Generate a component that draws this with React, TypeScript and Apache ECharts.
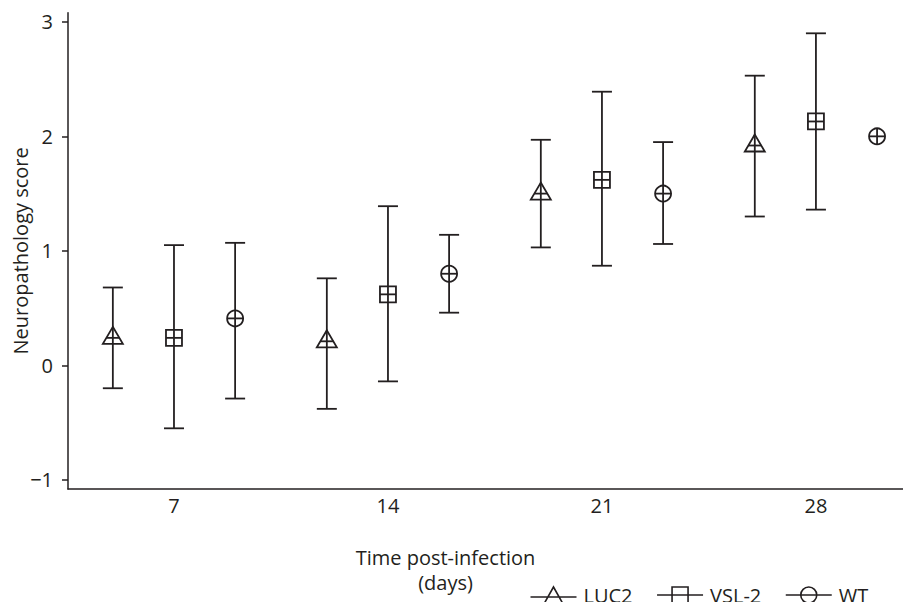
import React, { useEffect, useRef } from "react";
import * as echarts from "echarts";

// ---- data ----
const dayLabels = [7, 14, 21, 28];
const yTicks = [-1, 0, 1, 2, 3];

const luc2Mean = [0.24, 0.21, 1.5, 1.92];
const luc2Low = [-0.2, -0.38, 1.03, 1.3];
const luc2High = [0.68, 0.76, 1.97, 2.53];

const vslMean = [0.24, 0.62, 1.62, 2.13];
const vslLow = [-0.55, -0.14, 0.87, 1.36];
const vslHigh = [1.05, 1.39, 2.39, 2.9];

const wtMean = [0.41, 0.8, 1.5, 2.0];
const wtLow = [-0.29, 0.46, 1.06, 2.0];
const wtHigh = [1.07, 1.14, 1.95, 2.0];

const seriesNames = ["LUC2", "VSL-2", "WT"];
const dayOffsets = [-2, 0, 2];

const INK = "#231f20";
const FONT = "Open Sans";

type Shape = "triangle" | "square" | "circle";

function buildData(mean: number[], low: number[], high: number[], offset: number) {
  return dayLabels.map((d, i) => [d + offset, mean[i], low[i], high[i]]);
}

function makeRender(shape: Shape) {
  return (params: any, api: any) => {
    const x = api.value(0);
    const m = api.value(1);
    const lo = api.value(2);
    const hi = api.value(3);
    const c = api.coord([x, m]);
    const cx = c[0];
    const cy = c[1];
    const st = { stroke: INK, lineWidth: 1.8, fill: "none" };
    const children: any[] = [];
    if (hi !== lo) {
      const pl = api.coord([x, lo]);
      const ph = api.coord([x, hi]);
      const cap = 10;
      children.push({ type: "line", shape: { x1: cx, y1: pl[1], x2: cx, y2: ph[1] }, style: st });
      children.push({ type: "line", shape: { x1: cx - cap, y1: pl[1], x2: cx + cap, y2: pl[1] }, style: st });
      children.push({ type: "line", shape: { x1: cx - cap, y1: ph[1], x2: cx + cap, y2: ph[1] }, style: st });
    }
    const mst = { stroke: INK, lineWidth: 1.8, fill: "#fff" };
    if (shape === "triangle") {
      children.push({
        type: "polygon",
        shape: { points: [[cx, cy - 11], [cx - 10, cy + 6], [cx + 10, cy + 6]] },
        style: mst,
      });
      children.push({ type: "line", shape: { x1: cx - 6.5, y1: cy, x2: cx + 6.5, y2: cy }, style: st });
      children.push({ type: "line", shape: { x1: cx, y1: cy - 11, x2: cx, y2: cy + 6 }, style: st });
    } else if (shape === "square") {
      children.push({ type: "rect", shape: { x: cx - 8, y: cy - 8, width: 16, height: 16 }, style: mst });
      children.push({ type: "line", shape: { x1: cx - 8, y1: cy, x2: cx + 8, y2: cy }, style: st });
      children.push({ type: "line", shape: { x1: cx, y1: cy - 8, x2: cx, y2: cy + 8 }, style: st });
    } else {
      children.push({ type: "circle", shape: { cx, cy, r: 8 }, style: mst });
      children.push({ type: "line", shape: { x1: cx - 8, y1: cy, x2: cx + 8, y2: cy }, style: st });
      children.push({ type: "line", shape: { x1: cx, y1: cy - 8, x2: cx, y2: cy + 8 }, style: st });
    }
    return { type: "group", children };
  };
}

const legendIcons = [
  "path://M0 10 L46 10 M23 0 L32 16 L14 16 Z",
  "path://M0 8 L46 8 M15 0 L31 0 L31 16 L15 16 Z",
  "path://M0 8 L46 8 M31 8 A8 8 0 1 1 15 8 A8 8 0 1 1 31 8 Z",
];

export default function App() {
  const ref = useRef<HTMLDivElement>(null);
  useEffect(() => {
    if (!ref.current) return;
    const chart = echarts.init(ref.current, null, { renderer: "svg" });
    const shapes: Shape[] = ["triangle", "square", "circle"];
    const datasets = [
      buildData(luc2Mean, luc2Low, luc2High, dayOffsets[0]),
      buildData(vslMean, vslLow, vslHigh, dayOffsets[1]),
      buildData(wtMean, wtLow, wtHigh, dayOffsets[2]),
    ];
    const option: any = {
      animation: false,
      backgroundColor: "#fff",
      textStyle: { fontFamily: FONT, color: INK },
      grid: {
        left: 68,
        right: 0,
        top: 12.7,
        bottom: 121,
        containLabel: false,
        outerBoundsMode: "none",
      },
      legend: {
        left: 528,
        top: 584,
        padding: 0,
        itemWidth: 46,
        itemHeight: 16,
        itemGap: 22,
        selectedMode: false,
        textStyle: {
          fontFamily: FONT,
          fontSize: 20,
          lineHeight: 22,
          color: INK,
          padding: [0, 0, 0, 2],
        },
        itemStyle: { color: "none", borderColor: INK, borderWidth: 1.6 },
        data: seriesNames.map((n, i) => ({ name: n, icon: legendIcons[i] })),
      },
      xAxis: {
        type: "value",
        min: 3.533,
        max: 31.11,
        name: "Time post-infection\n(days)",
        nameLocation: "middle",
        nameGap: 56,
        nameMoveOverlap: false,
        nameTextStyle: {
          fontFamily: FONT,
          fontSize: 20,
          color: INK,
          lineHeight: 25,
          verticalAlign: "top",
          padding: [0, 88, 0, 0],
        },
        axisLine: { show: true, onZero: false, lineStyle: { color: INK, width: 1.5 } },
        axisTick: { show: false },
        splitLine: { show: false },
        axisLabel: {
          customValues: dayLabels,
          formatter: (v: number) => String(v),
          fontFamily: FONT,
          fontSize: 20,
          color: INK,
          margin: 6,
        },
      },
      yAxis: {
        type: "value",
        min: -1.08,
        max: 3.08,
        name: "Neuropathology score",
        nameLocation: "middle",
        nameGap: 38,
        nameRotate: 90,
        nameMoveOverlap: false,
        nameTextStyle: { fontFamily: FONT, fontSize: 20, color: INK },
        axisLine: { show: true, onZero: false, lineStyle: { color: INK, width: 1.5 } },
        axisTick: { show: true, length: 6, customValues: yTicks, lineStyle: { color: INK, width: 1.5 } },
        splitLine: { show: false },
        axisLabel: {
          customValues: yTicks,
          formatter: (v: number) => (v < 0 ? "\u2212" + Math.abs(v) : String(v)),
          fontFamily: FONT,
          fontSize: 20,
          color: INK,
          margin: 15,
        },
      },
      series: seriesNames.map((n, i) => ({
        name: n,
        type: "custom",
        renderItem: makeRender(shapes[i]),
        itemStyle: { color: INK },
        encode: { x: 0, y: [1, 2, 3] },
        data: datasets[i],
        clip: false,
      })),
    };
    chart.setOption(option);
    return () => chart.dispose();
  }, []);
  return <div ref={ref} style={{ width: 911, height: 610, margin: -8 }} />;
}
